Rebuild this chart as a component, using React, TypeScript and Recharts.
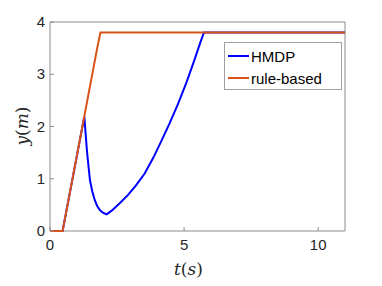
import React from "react"
import { LineChart, Line, XAxis, YAxis } from "recharts"

// trajectories
const hmdpT = [0, 0.47, 1.28, 1.38, 1.49, 1.58, 1.67, 1.76, 1.86, 1.97, 2.11, 2.3, 2.6, 2.91, 3.2, 3.53, 3.85, 4.15, 4.45, 4.77, 5.1, 5.39, 5.6, 5.74, 11]
const hmdpY = [0, 0, 2.19, 1.52, 0.97, 0.75, 0.59, 0.48, 0.4, 0.35, 0.32, 0.39, 0.53, 0.69, 0.87, 1.1, 1.4, 1.72, 2.05, 2.43, 2.86, 3.28, 3.6, 3.8, 3.8]
const ruleT = [0, 0.47, 1.76, 1.88, 11]
const ruleY = [0, 0, 3.5, 3.8, 3.8]
const xTicks = [0, 5, 10]
const yTicks = [0, 1, 2, 3, 4]

const hmdp = hmdpT.map((t, i) => ({ t, y: hmdpY[i] }))
const rule = ruleT.map((t, i) => ({ t, y: ruleY[i] }))

const AXIS = "#8c8c8c"
const TXT = "#262626"
const FONT = "'Liberation Sans', Arial, sans-serif"

const BottomTick = ({ x, y, payload }: any) => (
  <g>
    <line x1={x} x2={x} y1={y} y2={y - 4} stroke={AXIS} />
    <text x={x} y={y + 19} textAnchor="middle" fontSize={15} fill={TXT} fontFamily={FONT}>{payload.value}</text>
  </g>
)
const TopTick = ({ x, y }: any) => <line x1={x} x2={x} y1={y} y2={y + 4} stroke={AXIS} />
const LeftTick = ({ x, y, payload }: any) => (
  <g>
    <line x1={x} x2={x + 4} y1={y} y2={y} stroke={AXIS} />
    <text x={x - 5} y={y + 5} textAnchor="end" fontSize={15} fill={TXT} fontFamily={FONT}>{payload.value}</text>
  </g>
)
const RightTick = ({ x, y }: any) => <line x1={x} x2={x - 4} y1={y} y2={y} stroke={AXIS} />

export default function App() {
  return (
    <div style={{ position: "absolute", left: 0, top: 0, background: "#fff" }}>
      <div style={{ position: "relative", width: 382, height: 286 }}>
        <LineChart width={382} height={286} margin={{ top: 2, right: 17, bottom: 25, left: 10 }}>
          <XAxis xAxisId="b" type="number" dataKey="t" domain={[0, 11]} ticks={xTicks} height={30}
            tickSize={0} tickMargin={0} tickLine={false} stroke={AXIS} tick={<BottomTick />} />
          <XAxis xAxisId="t" orientation="top" type="number" dataKey="t" domain={[0, 11]} ticks={xTicks} height={20}
            tickSize={0} tickMargin={0} tickLine={false} stroke={AXIS} tick={<TopTick />} />
          <YAxis yAxisId="l" type="number" domain={[0, 4]} ticks={yTicks} width={40}
            tickSize={0} tickMargin={0} tickLine={false} stroke={AXIS} tick={<LeftTick />} />
          <YAxis yAxisId="r" orientation="right" type="number" domain={[0, 4]} ticks={yTicks} width={20}
            tickSize={0} tickMargin={0} tickLine={false} stroke={AXIS} tick={<RightTick />} />
          <Line xAxisId="b" yAxisId="l" data={hmdp} dataKey="y" type="linear" stroke="#0000ff" strokeWidth={2}
            dot={false} isAnimationActive={false} zIndex={900} />
          <Line xAxisId="b" yAxisId="l" data={rule} dataKey="y" type="linear" stroke="#D95319" strokeWidth={2}
            dot={false} isAnimationActive={false} zIndex={901} />
        </LineChart>
        {/* legend */}
        <div style={{ position: "absolute", left: 224, top: 42, width: 116, height: 46, border: "1px solid #a0a0a0",
          background: "#fff", fontFamily: FONT, fontSize: 15, color: "#000" }}>
          {[{ c: "#0000ff", n: "HMDP" }, { c: "#D95319", n: "rule-based" }].map((e, i) => (
            <div key={i} style={{ position: "absolute", left: 3, top: 3 + i * 22, height: 20, display: "flex", alignItems: "center" }}>
              <span style={{ display: "inline-block", width: 21, height: 2, background: e.c, marginRight: 2 }} />
              <span>{e.n}</span>
            </div>
          ))}
        </div>
        <div style={{ position: "absolute", left: 174, top: 259, fontFamily: "'DejaVu Serif', 'Liberation Serif', serif",
          fontSize: 17, color: TXT }}>
          <i>t</i>(<i>s</i>)
        </div>
        <div style={{ position: "absolute", left: 22, top: 126, transform: "translate(-50%, -50%) rotate(-90deg)",
          fontFamily: "'DejaVu Serif', 'Liberation Serif', serif", fontSize: 17, color: TXT, whiteSpace: "nowrap" }}>
          <i>y</i>(<i>m</i>)
        </div>
      </div>
    </div>
  )
}
